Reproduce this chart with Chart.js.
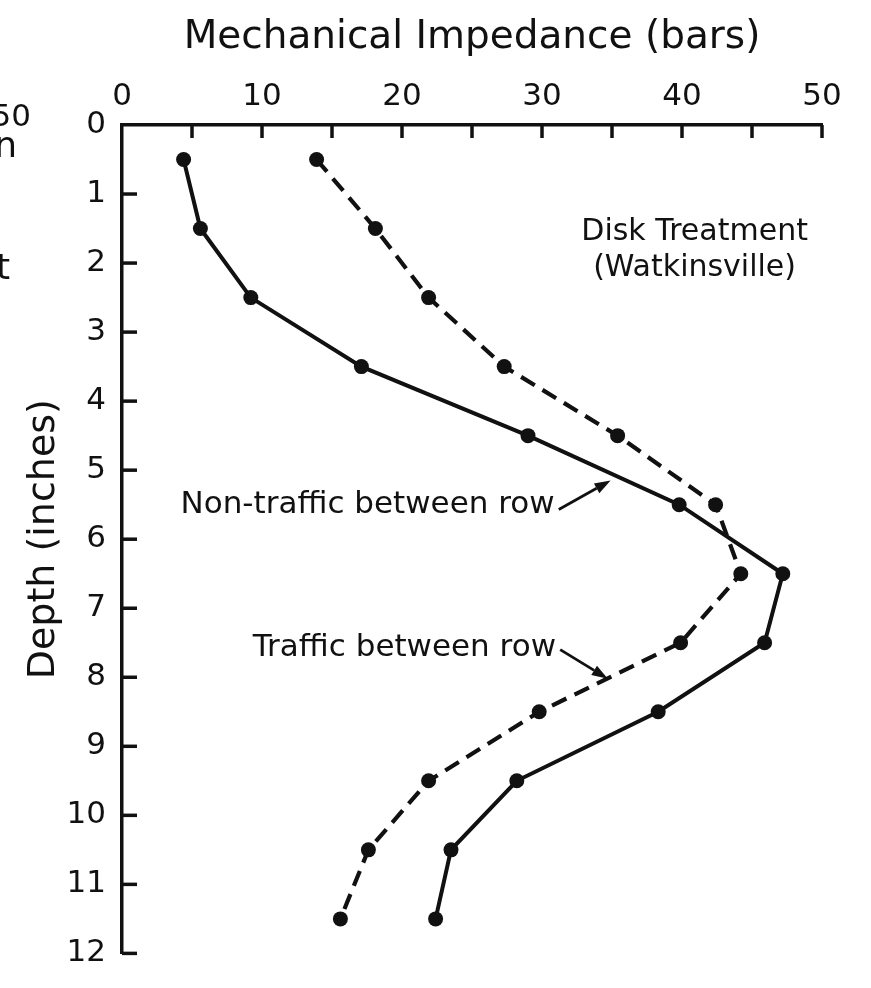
<!DOCTYPE html>
<html>
<head>
<meta charset="utf-8">
<script src="https://cdn.jsdelivr.net/npm/chart.js@4/dist/chart.umd.min.js"></script>
<style>
  html, body { margin: 0; padding: 0; background: #fff; }
  canvas { display: block; }
</style>
</head>
<body>
<canvas id="chart" width="871" height="988"></canvas>
<script>
// Soil depth (inches) at which impedance was sampled
const depths = [0.5, 1.5, 2.5, 3.5, 4.5, 5.5, 6.5, 7.5, 8.5, 9.5, 10.5, 11.5];
// Mechanical impedance (bars), disk treatment, Watkinsville
const nonTraffic = [4.4, 5.6, 9.2, 17.1, 29.0, 39.8, 47.2, 45.9, 38.3, 28.2, 23.5, 22.4];
const traffic    = [13.9, 18.1, 21.9, 27.3, 35.4, 42.4, 44.2, 39.9, 29.8, 21.9, 17.6, 15.6];

// Axis ranges and labelled ticks
const impedanceLabels = [0, 10, 20, 30, 40, 50];
const depthLabels = [0, 1, 2, 3, 4, 5, 6, 7, 8, 9, 10, 11, 12];

// Text notes placed in data units (impedance, depth)
const notes = [
  { text: 'Disk Treatment', x: 40.9, y: 1.55, align: 'center', size: 30 },
  { text: '(Watkinsville)', x: 40.9, y: 2.08, align: 'center', size: 30 },
  { text: 'Non-traffic between row', x: 30.9, y: 5.5, align: 'right', size: 31 },
  { text: 'Traffic between row', x: 31.0, y: 7.57, align: 'right', size: 31 }
];
const arrows = [
  { from: [31.2, 5.57], to: [34.9, 5.15] },
  { from: [31.3, 7.6], to: [34.7, 8.02] }
];

const INK = '#111';
const FONT = "'DejaVu Sans', sans-serif";

function toPoints(values) {
  return values.map((v, i) => ({ x: v, y: depths[i] }));
}

const profilePlugin = {
  id: 'profileExtras',
  afterDraw(chart) {
    const { ctx, chartArea, scales } = chart;
    const xs = scales.x, ys = scales.y;
    ctx.save();
    ctx.strokeStyle = INK;
    ctx.fillStyle = INK;
    ctx.lineWidth = 3.5;
    ctx.lineCap = 'butt';

    // tick marks pointing into the plot
    xs.ticks.forEach(t => {
      if (t.value === xs.min) return;
      const px = xs.getPixelForValue(t.value);
      ctx.beginPath();
      ctx.moveTo(px, chartArea.top);
      ctx.lineTo(px, chartArea.top + 13);
      ctx.stroke();
    });
    ys.ticks.forEach(t => {
      if (t.value === ys.min) return;
      const py = ys.getPixelForValue(t.value);
      ctx.beginPath();
      ctx.moveTo(chartArea.left, py);
      ctx.lineTo(chartArea.left + 15, py);
      ctx.stroke();
    });

    // notes
    ctx.textBaseline = 'middle';
    notes.forEach(n => {
      ctx.font = n.size + 'px ' + FONT;
      ctx.textAlign = n.align;
      ctx.fillText(n.text, xs.getPixelForValue(n.x), ys.getPixelForValue(n.y));
    });

    // leader arrows
    ctx.lineWidth = 2.8;
    arrows.forEach(a => {
      const x0 = xs.getPixelForValue(a.from[0]), y0 = ys.getPixelForValue(a.from[1]);
      const x1 = xs.getPixelForValue(a.to[0]), y1 = ys.getPixelForValue(a.to[1]);
      const ang = Math.atan2(y1 - y0, x1 - x0);
      const hl = 16, hw = 5.5;
      const bx = x1 - hl * Math.cos(ang), by = y1 - hl * Math.sin(ang);
      ctx.beginPath();
      ctx.moveTo(x0, y0);
      ctx.lineTo(bx, by);
      ctx.stroke();
      ctx.beginPath();
      ctx.moveTo(x1, y1);
      ctx.lineTo(bx - hw * Math.sin(ang), by + hw * Math.cos(ang));
      ctx.lineTo(bx + hw * Math.sin(ang), by - hw * Math.cos(ang));
      ctx.closePath();
      ctx.fill();
    });

    // fragments of the neighbouring panel at the left edge
    ctx.textAlign = 'right';
    ctx.font = '31px ' + FONT;
    ctx.fillText('50', 31, 118);
    ctx.font = '36px ' + FONT;
    ctx.fillText('n', 17, 148);
    ctx.fillText('t', 10, 270);
    ctx.restore();
  }
};

Chart.defaults.font.family = FONT;
Chart.defaults.color = INK;

new Chart(document.getElementById('chart'), {
  type: 'scatter',
  data: {
    datasets: [
      {
        label: 'Non-traffic between row',
        data: toPoints(nonTraffic),
        showLine: true,
        borderColor: INK,
        backgroundColor: INK,
        borderWidth: 4,
        pointRadius: 7.5,
        pointBorderWidth: 0,
        tension: 0
      },
      {
        label: 'Traffic between row',
        data: toPoints(traffic),
        showLine: true,
        borderColor: INK,
        backgroundColor: INK,
        borderWidth: 4.2,
        borderDash: [16, 9],
        pointRadius: 7.5,
        pointBorderWidth: 0,
        tension: 0
      }
    ]
  },
  options: {
    responsive: false,
    devicePixelRatio: 1,
    animation: false,
    events: [],
    layout: { padding: { left: 0, top: 0, right: 49, bottom: 18 } },
    plugins: {
      legend: { display: false },
      tooltip: { enabled: false }
    },
    scales: {
      x: {
        type: 'linear',
        position: 'top',
        min: impedanceLabels[0],
        max: impedanceLabels[impedanceLabels.length - 1],
        afterFit(scale) { scale.height = 125; },
        ticks: {
          stepSize: 5,
          autoSkip: false,
          maxRotation: 0,
          padding: 9,
          font: { size: 31 },
          callback: v => (impedanceLabels.includes(v) ? String(v) : '')
        },
        grid: { drawOnChartArea: false, drawTicks: false },
        border: { display: true, color: INK, width: 3.5 },
        title: {
          display: true,
          text: 'Mechanical Impedance (bars)',
          font: { size: 39 },
          padding: { top: 14, bottom: 0 }
        }
      },
      y: {
        type: 'linear',
        position: 'left',
        reverse: true,
        min: depthLabels[0],
        max: depthLabels[depthLabels.length - 1],
        afterFit(scale) { scale.width = 122; },
        ticks: {
          stepSize: 1,
          autoSkip: false,
          padding: 16,
          font: { size: 31 },
          callback: v => (depthLabels.includes(v) ? String(v) : '')
        },
        grid: { drawOnChartArea: false, drawTicks: false },
        border: { display: true, color: INK, width: 3.5 },
        title: {
          display: true,
          text: 'Depth (inches)',
          font: { size: 38 },
          padding: { top: 21, bottom: 0 }
        }
      }
    }
  },
  plugins: [profilePlugin]
});
</script>
</body>
</html>
